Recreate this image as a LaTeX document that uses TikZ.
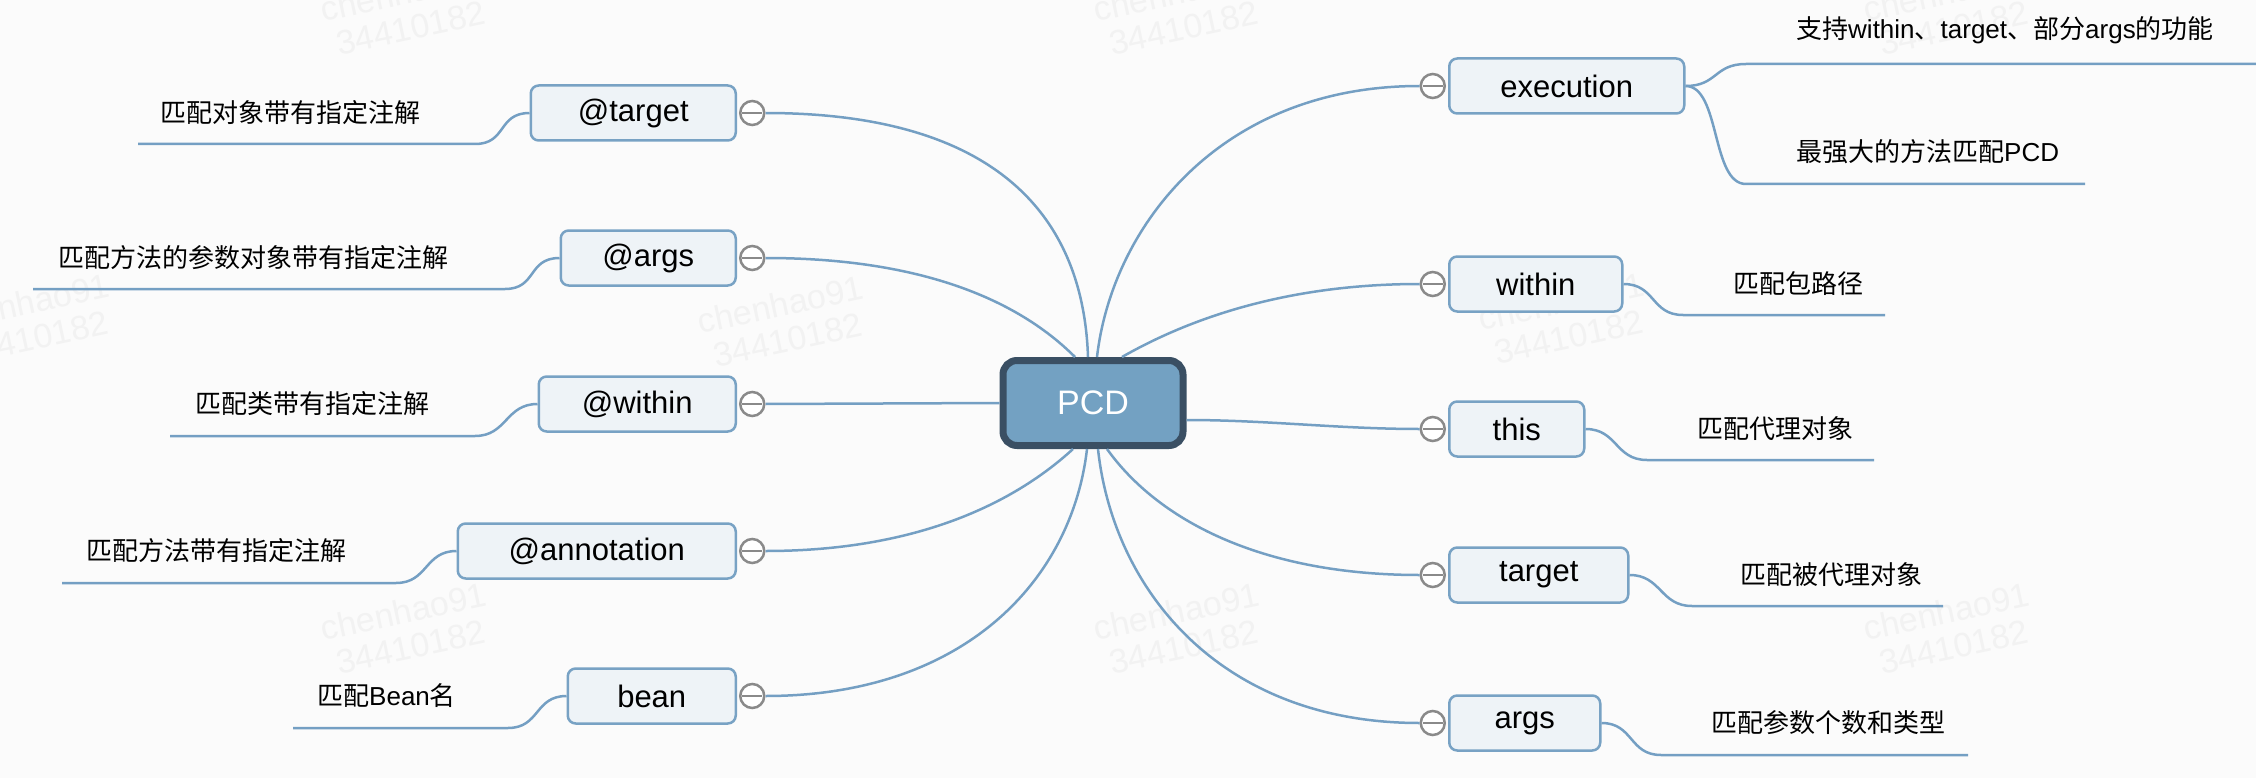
\documentclass[tikz,border=0pt]{standalone}
\usepackage{fontspec}
\setmainfont{Liberation Sans}
\newfontfamily\cjk{Noto Sans CJK SC}
\usepackage{tikz}
\usetikzlibrary{positioning}
\definecolor{bgcol}{RGB}{251,251,251}
\definecolor{linecol}{RGB}{116,159,195}
\definecolor{boxfill}{RGB}{238,243,247}
\definecolor{boxline}{RGB}{120,162,196}
\definecolor{pcdfill}{RGB}{115,161,194}
\definecolor{pcdline}{RGB}{58,79,99}
\definecolor{foldcol}{RGB}{138,138,138}
\definecolor{markcol}{RGB}{242,242,242}
\newcommand{\lat}[1]{{\rmfamily#1}}

\begin{document}
\begin{tikzpicture}[x=1pt,y=-1pt,
  topic/.style={draw=boxline,line width=2.5pt,fill=boxfill,rounded corners=8pt,minimum height=55pt,inner sep=0pt,font=\fontsize{31}{36}\selectfont},
  leaf/.style={anchor=west,inner sep=0pt,font=\cjk\fontsize{26}{32}\selectfont},
  branch/.style={draw=linecol,line width=2.5pt},
  fold/.style={circle,draw=foldcol,line width=2.5pt,fill=white,minimum size=24pt,inner sep=0pt,
    path picture={\draw[foldcol,line width=2.5pt] ([xshift=-10pt]path picture bounding box.center) -- ([xshift=10pt]path picture bounding box.center);}},
  wmark/.style={text=markcol,rotate=12,align=center,font=\fontsize{34}{36}\selectfont}]

\fill[bgcol] (0,0) rectangle (2256,778);
\useasboundingbox (0,0) rectangle (2256,778);

\foreach \wx/\wy in {407/10,1180/10,1950/10,30/320,784/322,1565/319,407/629,1180/629,1950/629}
  \node[wmark] (mark\wx-\wy) at (\wx,\wy) {chenhao91\\34410182};

\node[draw=pcdline,line width=7pt,fill=pcdfill,rounded corners=14pt,minimum width=180pt,minimum height=85pt,
  text=white,font=\fontsize{34}{40}\selectfont] (pcd) at (1093,403) {PCD};

\foreach \n/\lbl/\w/\y in {atarget/@target/205/113, aargs/@args/175/258, awithin/@within/197/404,
  aanno/@annotation/278/551, bean/bean/168/696}{
  \node[topic,minimum width=\w pt,anchor=east] (\n) at (737,\y) {\lbl};
  \node[fold,right=2pt of \n] (f\n) {};
}
\foreach \n/\lbl/\w/\y in {execution/execution/235/86, within/within/173/284, this/this/135/429,
  target/target/179/575, args/args/151/723}{
  \node[topic,minimum width=\w pt,anchor=west] (\n) at (1448,\y) {\lbl};
  \node[fold,left=2pt of \n] (f\n) {};
}

\draw[branch] ([xshift=-5pt]pcd.north) .. controls +(-5,-150) and +(220,0) .. (fatarget.east);
\draw[branch] ([xshift=-18pt]pcd.north) .. controls +(-60,-60) and +(150,0) .. (faargs.east);
\draw[branch] (pcd.west) -- (fawithin.east);
\draw[branch] ([xshift=-20pt]pcd.south) .. controls +(-60,55) and +(150,0) .. (faanno.east);
\draw[branch] ([xshift=-6pt]pcd.south) .. controls +(-15,130) and +(200,0) .. (fbean.east);
\draw[branch] ([xshift=4pt]pcd.north) .. controls +(15,-130) and +(-200,0) .. (fexecution.west);
\draw[branch] ([xshift=29pt]pcd.north) .. controls +(70,-40) and +(-130,0) .. (fwithin.west);
\draw[branch] ([yshift=-17pt]pcd.east) .. controls +(80,0) and +(-80,0) .. (fthis.west);
\draw[branch] ([xshift=14pt]pcd.south) .. controls +(50,70) and +(-160,0) .. (ftarget.west);
\draw[branch] ([xshift=5pt]pcd.south) .. controls +(15,140) and +(-200,0) .. (fargs.west);

\foreach \n/\lbl/\x/\y in {atarget/匹配对象带有指定注解/160/113, aargs/匹配方法的参数对象带有指定注解/58/258,
  awithin/匹配类带有指定注解/195/404, aanno/匹配方法带有指定注解/86/551, bean/匹配\lat{Bean}名/317/696,
  within/匹配包路径/1733/284, this/匹配代理对象/1697/429, target/匹配被代理对象/1740/575,
  args/匹配参数个数和类型/1711/723}
  \node[leaf] (l\n) at (\x,\y) {\lbl};
\node[leaf] (lexecution1) at (1796,30) {支持\lat{within}、\lat{target}、部分\lat{args}的功能};
\node[leaf] (lexecution2) at (1796,152) {最强大的方法匹配\lat{PCD}};

\foreach \n/\a/\b/\y in {atarget/138/475/144, aargs/33/505/289, awithin/170/475/436, aanno/62/396/583, bean/293/508/728}
  \draw[branch] (\a,\y) -- (\b,\y) .. controls +(32,0) and +(-32,0) .. (\n.west);
\foreach \n/\a/\b/\y in {within/1683/1885/315, this/1647/1874/460, target/1692/1943/606, args/1661/1968/755}
  \draw[branch] (\n.east) .. controls +(32,0) and +(-32,0) .. (\a,\y) -- (\b,\y);
\draw[branch] (execution.east) .. controls +(32,0) and +(-32,0) .. (1746,64) -- (2256,64);
\draw[branch] (execution.east) .. controls +(35,0) and +(-35,0) .. (1746,184) -- (2085,184);
\end{tikzpicture}
\end{document}
